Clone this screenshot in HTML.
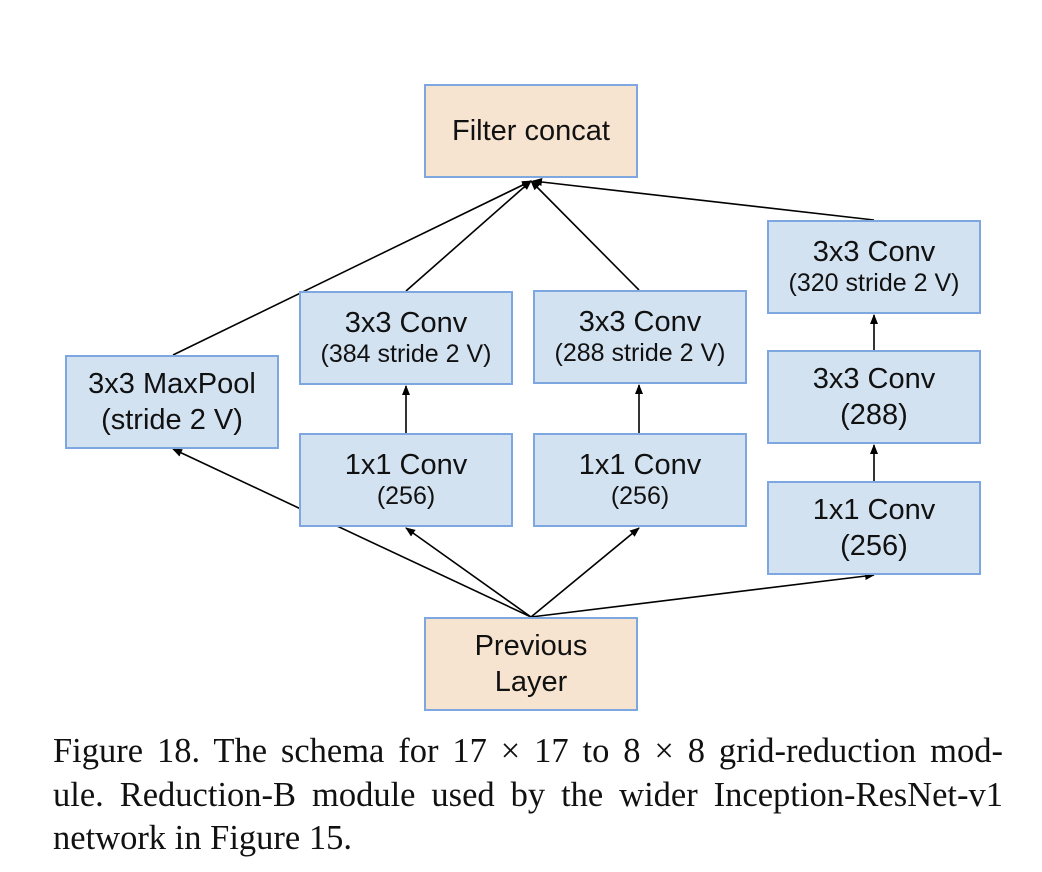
<!DOCTYPE html>
<html><head><style>
body{margin:0;background:#fff;width:1042px;height:872px;position:relative;overflow:hidden}
.b{position:absolute;box-sizing:border-box;border:2px solid #7ea6e0;background:#d3e2f1;display:flex;flex-direction:column;align-items:center;justify-content:center;font-family:"Liberation Sans",sans-serif;color:#111;font-size:29px;line-height:36px;text-align:center}
.o{background:#f6e4d0}
.s{font-size:25px;line-height:30px}
.cap{position:absolute;left:53px;width:950px;font-family:"Liberation Serif",serif;font-size:34.5px;line-height:43px;color:#111;white-space:nowrap}
.j{text-align:justify;text-align-last:justify;white-space:normal}
</style></head><body>
<svg width="1042" height="872" style="position:absolute;left:0;top:0">
<defs><marker id="a" markerWidth="10" markerHeight="8" refX="9" refY="4" orient="auto" markerUnits="userSpaceOnUse"><path d="M0,0L10,4L0,8z" fill="#000"/></marker></defs>
<g stroke="#000" stroke-width="1.6" fill="none">
<line x1="173" y1="355" x2="531" y2="181" marker-end="url(#a)"/>
<line x1="406" y1="291" x2="531" y2="181" marker-end="url(#a)"/>
<line x1="639" y1="290" x2="531" y2="181" marker-end="url(#a)"/>
<line x1="874" y1="220" x2="533" y2="181" marker-end="url(#a)"/>
<line x1="531" y1="617" x2="173" y2="449" marker-end="url(#a)"/>
<line x1="531" y1="617" x2="406" y2="528" marker-end="url(#a)"/>
<line x1="531" y1="617" x2="639" y2="528" marker-end="url(#a)"/>
<line x1="531" y1="617" x2="874" y2="575" marker-end="url(#a)"/>
<line x1="406" y1="433" x2="406" y2="386" marker-end="url(#a)"/>
<line x1="639" y1="433" x2="639" y2="385" marker-end="url(#a)"/>
<line x1="874" y1="481" x2="874" y2="445" marker-end="url(#a)"/>
<line x1="874" y1="350" x2="874" y2="315" marker-end="url(#a)"/>
</g></svg>
<div class="b o" style="left:424px;top:84px;width:214px;height:94px">Filter concat</div>
<div class="b" style="left:65px;top:355px;width:214px;height:94px">3x3 MaxPool<br>(stride 2 V)</div>
<div class="b" style="left:299px;top:291px;width:214px;height:94px"><div style="line-height:32px">3x3 Conv</div><div class="s">(384 stride 2 V)</div></div>
<div class="b" style="left:533px;top:290px;width:214px;height:94px"><div style="line-height:32px">3x3 Conv</div><div class="s">(288 stride 2 V)</div></div>
<div class="b" style="left:299px;top:433px;width:214px;height:94px"><div style="line-height:32px">1x1 Conv</div><div class="s">(256)</div></div>
<div class="b" style="left:533px;top:433px;width:214px;height:94px"><div style="line-height:32px">1x1 Conv</div><div class="s">(256)</div></div>
<div class="b" style="left:767px;top:220px;width:214px;height:94px"><div style="line-height:32px">3x3 Conv</div><div class="s">(320 stride 2 V)</div></div>
<div class="b" style="left:767px;top:350px;width:214px;height:94px">3x3 Conv<br>(288)</div>
<div class="b" style="left:767px;top:481px;width:214px;height:94px">1x1 Conv<br>(256)</div>
<div class="b o" style="left:424px;top:617px;width:214px;height:94px">Previous<br>Layer</div>
<div class="cap j" style="top:730px">Figure 18. The schema for 17 × 17 to 8 × 8 grid-reduction mod-</div>
<div class="cap j" style="top:774px">ule. Reduction-B module used by the wider Inception-ResNet-v1</div>
<div class="cap" style="top:817px">network in Figure 15.</div>
</body></html>
